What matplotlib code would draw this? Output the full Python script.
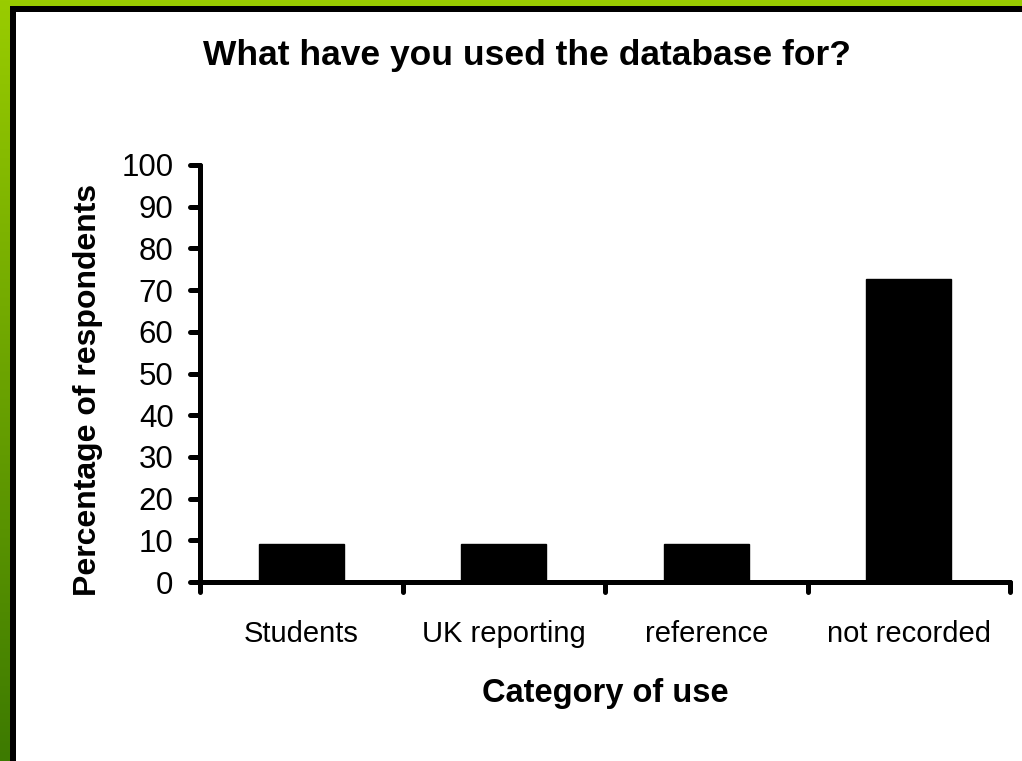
import numpy as np
import matplotlib
matplotlib.use("Agg")
import matplotlib.pyplot as plt
from matplotlib.patches import Rectangle
from matplotlib.markers import MarkerStyle
import matplotlib.lines as mlines

plt.rcParams['font.family'] = ['Liberation Sans', 'DejaVu Sans']

categorias = ["Students", "UK reporting", "reference", "not recorded"]
porcentajes = [9.1, 9.1, 9.1, 72.7]
ticks_y = [0, 10, 20, 30, 40, 50, 60, 70, 80, 90, 100]

W, H = 1022, 761
fig = plt.figure(figsize=(W / 100, H / 100), dpi=100)

# fondo verde degradado
fondo = fig.add_axes([0, 0, 1, 1], zorder=-10)
grad = np.linspace(0, 1, 256).reshape(-1, 1)
cmap = matplotlib.colors.LinearSegmentedColormap.from_list("verde", ["#99cc00", "#3d7a00"])
fondo.imshow(grad, aspect="auto", cmap=cmap, extent=[0, 1, 0, 1], origin="upper")
fondo.axis("off")

# marco blanco con borde negro
lw_px = 6
marco = Rectangle((13 / W, -0.1), 1.2, (H - 9) / H + 0.1, transform=fig.transFigure,
                  facecolor="white", edgecolor="black", linewidth=lw_px * 0.72, zorder=-5)
fig.patches.append(marco)

ax = fig.add_axes([200 / W, 179 / H, 810 / W, 417 / H])
ax.patch.set_alpha(0)
x = np.arange(len(categorias))
ax.bar(x, porcentajes, width=0.42, color="black", edgecolor="black")

ax.set_xlim(-0.5, len(categorias) - 0.5)
ax.set_ylim(0, 100)
ax.set_yticks(ticks_y)
ax.set_yticklabels([str(t) for t in ticks_y], fontsize=22.5)
ax.set_xticks(x)
ax.set_xticklabels(categorias, fontsize=21)
ax.set_xticks(np.arange(len(categorias) + 1) - 0.5, minor=True)
ax.tick_params(axis="x", which="major", length=0, pad=27)
ax.tick_params(axis="x", which="minor", length=7, width=3.6, direction="out", color="black")
ax.tick_params(axis="y", which="major", length=7, width=3.6, direction="out", pad=12)

for lado in ["top", "right"]:
    ax.spines[lado].set_visible(False)
for lado in ["left", "bottom"]:
    ax.spines[lado].set_linewidth(3.6)
    ax.spines[lado].set_capstyle("round")

for t in ax.yaxis.get_major_ticks():
    t.tick1line.set_marker(MarkerStyle(mlines.TICKLEFT, capstyle="round"))
for t in ax.xaxis.get_minor_ticks():
    t.tick1line.set_marker(MarkerStyle(mlines.TICKDOWN, capstyle="round"))

ax.set_ylabel("Percentage of respondents", fontsize=23, fontweight="bold")
ax.yaxis.set_label_coords(-97 / 810, 0.46)
ax.set_xlabel("Category of use", fontsize=23.5, fontweight="bold", labelpad=22)

fig.text(527 / W, 1 - 55 / H, "What have you used the database for?", fontsize=25.5,
         fontweight="bold", ha="center", va="center")

plt.savefig("out.png", dpi=100)
plt.close()
